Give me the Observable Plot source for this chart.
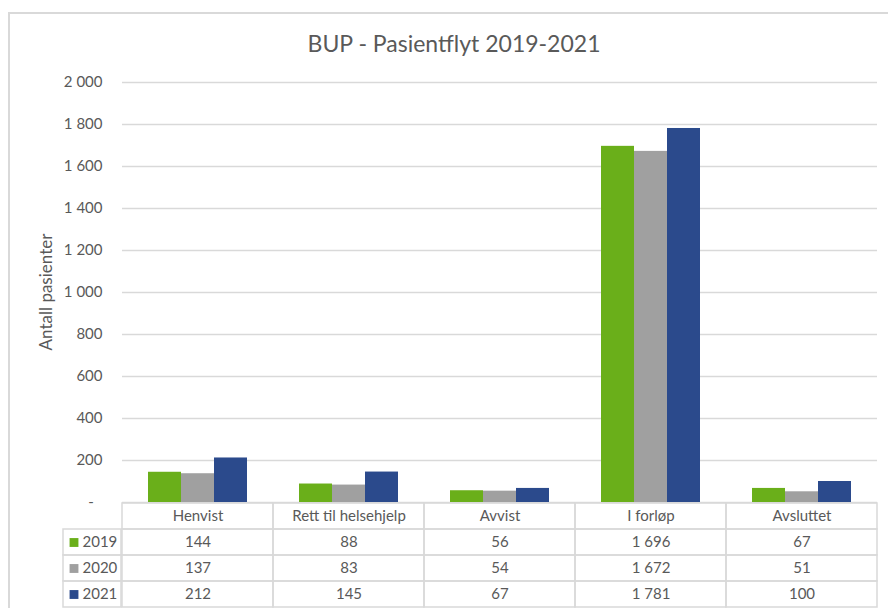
<!DOCTYPE html>
<html>
<head>
<meta charset="utf-8">
<script src="https://cdn.jsdelivr.net/npm/d3@7"></script>
<script src="https://cdn.jsdelivr.net/npm/@observablehq/plot@0.6"></script>
<style>
  html, body { margin: 0; padding: 0; background: #fff; }
  #wrap { position: relative; width: 888px; height: 608px; overflow: hidden; background: #fff; font-family: Lato, "Open Sans", sans-serif; color: #595959; }
  #frame { position: absolute; left: 8px; top: 12px; width: 920px; height: 640px; border: 2px solid #d9d9d9; box-sizing: border-box; }
  #title { position: absolute; top: 32px; left: 454px; transform: translateX(-50%); white-space: nowrap; font-size: 23px; line-height: 1; color: #595959; }
  #ylabel { position: absolute; left: 45px; top: 292px; transform: translate(-50%, -50%) rotate(-90deg); white-space: nowrap; font-size: 17px; line-height: 1; color: #595959; }
  .abs { position: absolute; }
</style>
</head>
<body>
<div id="wrap">
  <div id="frame"></div>
  <div id="title">BUP - Pasientflyt 2019-2021</div>
  <div id="chart" class="abs" style="left:0;top:0"></div>
  <div id="ylabel"></div>
  <div id="table" class="abs" style="left:0;top:502px"></div>
  <div id="key" class="abs" style="left:0;top:502px"></div>
</div>
<script>
// ---- data ----
const categories = ["Henvist", "Rett til helsehjelp", "Avvist", "I forløp", "Avsluttet"];
const years = ["2019", "2020", "2021"];
const values2019 = [144, 88, 56, 1696, 67];
const values2020 = [137, 83, 54, 1672, 51];
const values2021 = [212, 145, 67, 1781, 100];
const yearColors = ["#6AAF1A", "#A0A0A0", "#2B4A8C"];
const yTicks = [0, 200, 400, 600, 800, 1000, 1200, 1400, 1600, 1800, 2000];
const yLabel = "Antall pasienter";

// ---- build table ----
const seriesValues = [values2019, values2020, values2021];
const rows = [];
years.forEach((yr, i) => categories.forEach((c, j) => rows.push({cat: c, year: yr, value: seriesValues[i][j]})));

const locale = d3.formatLocale({decimal: ",", thousands: "\u00a0", grouping: [3], currency: ["", " kr"]});
const fmt = locale.format(",d");
const tickFmt = d => d === 0 ? "-\u2007" : fmt(d);

const textColor = "#595959";
const lineColor = "#d9d9d9";

document.getElementById("ylabel").textContent = yLabel;

// ---- chart ----
const chart = Plot.plot({
  width: 888,
  height: 514,
  marginTop: 82,
  marginBottom: 12,
  marginLeft: 121,
  marginRight: 10,
  style: {fontFamily: "Lato, 'Open Sans', sans-serif", fontSize: "15px", color: textColor, background: "transparent", overflow: "visible"},
  facet: {data: rows, x: "cat"},
  fx: {domain: categories, padding: 0, axis: null, label: null},
  x: {domain: years, paddingInner: 0, paddingOuter: 0.755, axis: null, label: null},
  y: {domain: [0, 2000], label: null},
  color: {domain: years, range: yearColors},
  marks: [
    Plot.gridY(yTicks, {stroke: lineColor, strokeOpacity: 1, strokeWidth: 1.5}),
    Plot.axisY(yTicks, {
      tickSize: 0, tickPadding: 20, tickFormat: tickFmt, fontSize: 15, fill: textColor, label: null
    }),
    Plot.barY(rows, {x: "year", y: "value", fill: "year"})
  ]
});
document.getElementById("chart").append(chart);

// ---- data table ----
const rowKeys = ["head", ...years];
const headCells = categories.map(c => ({cat: c, row: "head", label: c}));
const dataCells = rows.map(r => ({cat: r.cat, row: r.year, label: fmt(r.value)}));
const cells = headCells.concat(dataCells);

const table = Plot.plot({
  width: 888,
  height: 106,
  marginTop: 1,
  marginBottom: 1,
  marginLeft: 121,
  marginRight: 10,
  style: {fontFamily: "Lato, 'Open Sans', sans-serif", fontSize: "15px", color: textColor, background: "transparent"},
  x: {domain: categories, padding: 0, axis: null},
  y: {domain: rowKeys, padding: 0, axis: null},
  marks: [
    Plot.cell(cells, {x: "cat", y: "row", fill: "none", stroke: lineColor, strokeWidth: 1.5, inset: 0}),
    Plot.text(cells, {x: "cat", y: "row", text: "label", fill: textColor, fontSize: 15})
  ]
});
document.getElementById("table").append(table);

// ---- key column ----
const key = Plot.plot({
  width: 122,
  height: 106,
  marginTop: 1,
  marginBottom: 1,
  marginLeft: 63,
  marginRight: 1,
  style: {fontFamily: "Lato, 'Open Sans', sans-serif", fontSize: "15px", color: textColor, background: "transparent"},
  y: {domain: rowKeys, padding: 0, axis: null},
  color: {domain: years, range: yearColors},
  marks: [
    Plot.cell(years, {y: d => d, fill: "none", stroke: lineColor, strokeWidth: 1.5, inset: 0}),
    Plot.dot(years, {y: d => d, frameAnchor: "left", dx: 10.5, symbol: "square", r: 5, fill: d => d, stroke: "none"}),
    Plot.text(years, {y: d => d, text: d => d, frameAnchor: "left", dx: 19, textAnchor: "start", fill: textColor, fontSize: 15})
  ]
});
document.getElementById("key").append(key);
</script>
</body>
</html>
